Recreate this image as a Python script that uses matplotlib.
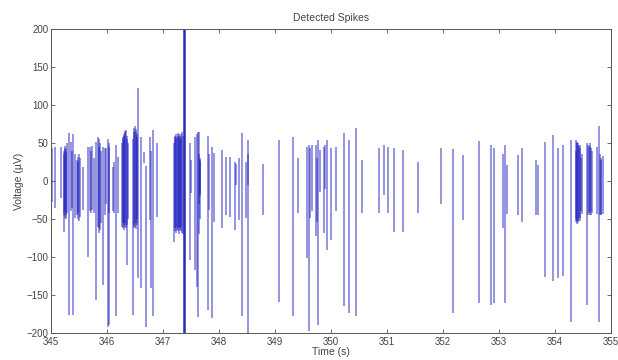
import numpy as np
import matplotlib.pyplot as plt

plt.rcParams['font.family'] = ['Liberation Sans', 'DejaVu Sans']

# spike times (s), peak and trough (uV)
spike_t = [
    345.01, 345.08, 345.17,
    345.225, 345.235, 345.245, 345.255, 345.265, 345.275, 345.29, 345.32,
    345.36, 345.38, 345.40, 345.42,
    345.46, 345.475, 345.49, 345.50, 345.515, 345.57,
    345.67, 345.69, 345.71, 345.73, 345.76, 345.80,
    345.84, 345.85, 345.865, 345.88, 345.895, 345.93, 345.96, 345.98,
    346.01, 346.03, 346.045, 346.10, 346.12, 346.16, 346.20,
    346.27, 346.28, 346.29, 346.30, 346.31, 346.32, 346.33, 346.34, 346.35, 346.36, 346.37,
    346.47, 346.48, 346.49, 346.50, 346.51, 346.52, 346.53, 346.54, 346.555,
    346.61, 346.67, 346.69, 346.76, 346.78, 346.82, 346.90,
    347.20, 347.21, 347.22, 347.23, 347.24, 347.25, 347.26, 347.27, 347.28,
    347.29, 347.30, 347.31, 347.32, 347.33, 347.34, 347.35,
    347.49, 347.50, 347.57, 347.61, 347.62, 347.64, 347.65, 347.655, 347.66, 347.67,
    347.80, 347.82, 347.88, 347.92,
    348.05, 348.12, 348.20, 348.29, 348.30, 348.35, 348.42, 348.48, 348.51, 348.52, 348.79,
    349.08, 349.32, 349.42, 349.58, 349.60, 349.63, 349.66, 349.74, 349.745, 349.76,
    349.81, 349.88, 349.90, 349.93,
    350.00, 350.09, 350.23, 350.33, 350.44, 350.55, 350.86, 350.95,
    351.02, 351.13, 351.28, 351.55, 351.96,
    352.18, 352.36, 352.64, 352.85, 352.92,
    353.08, 353.11, 353.14, 353.34, 353.42, 353.66, 353.70, 353.82, 353.97,
    354.05, 354.14, 354.28,
    354.37, 354.38, 354.39, 354.40, 354.41, 354.42, 354.43, 354.44, 354.45, 354.47, 354.49,
    354.58, 354.60, 354.61, 354.62, 354.635, 354.65, 354.66,
    354.76, 354.79, 354.80, 354.815, 354.83, 354.86,
]
spike_top = [
    43, 45, 45,
    35, 40, 46, 44, 38, 42, 50, 63,
    52, 40, 62, 35,
    28, 32, 25, 35, 30, 19,
    45, 45, 40, 46, 30, 52,
    58, 45, 55, 50, 40, 45, 43, 43,
    56, 50, 45, 19, 25, 47, 32,
    50, 58, 55, 62, 60, 66, 64, 67, 60, 55, 50,
    55, 65, 70, 72, 68, 65, 62, 58, 122,
    58, 38, 20, 58, 40, 67, 50,
    50, 58, 60, 55, 62, 58, 63, 60, 58,
    62, 56, 60, 57, 62, 65, 60,
    50, 28, 58, 62, 65, 35, 65, 28, 30, 25,
    60, 36, 45, 37,
    41, 32, 32, 25, 22, 30, 63, 25, 54, 35, 23,
    54, 58, 30, 45, 48, 43, 48, 48, 30, 54,
    41, 45, 48, 54,
    43, 45, 63, 54, 70, 28, 43, 47,
    45, 43, 41, 25, 44,
    42, 34, 53, 48, 43,
    36, 47, 21, 34, 43, 28, 21, 51, 61,
    44, 47, 54,
    40, 54, 50, 52, 48, 50, 46, 48, 44, 30, 36,
    50, 48, 45, 50, 46, 44, 40,
    45, 72, 35, 30, 28, 33,
]
spike_bot = [
    -27, -36, -22,
    -67, -45, -48, -40, -50, -44, -42, -176,
    -40, -35, -176, -48,
    -45, -50, -42, -52, -47, -38,
    -100, -40, -42, -38, -42, -157,
    -60, -68, -62, -65, -55, -137, -45, -30,
    -192, -190, -42, -40, -42, -178, -42,
    -60, -55, -62, -58, -64, -60, -55, -62, -58, -110, -50,
    -176, -58, -62, -60, -63, -55, -58, -50, -128,
    -141, 24, -192, -51, -141, -178, -47,
    -80, -62, -66, -60, -68, -64, -62, -66, -60,
    -70, -64, -62, -66, -60, -68, -70,
    -104, -16, -117, -140, -179, -70, -30, -16, -20, -50,
    -170, -38, -180, -54,
    -62, -45, -47, -64, -5, -51, -178, -48, -210, -5, -45,
    -159, -178, -42, -101, -198, -49, -40, -72, -54, -190,
    -14, -68, -10, -91,
    -78, -40, -165, -174, -178, -42, -42, -18,
    -42, -67, -67, -42, -30,
    -174, -51, -160, -163, -160,
    -62, -161, -43, -45, -54, -45, -45, -126, -132,
    -128, -125, -185,
    -50, -54, -52, -56, -53, -55, -50, -52, -48, -40, -43,
    -163, -45, -42, -45, -40, -45, -42,
    -43, -185, -45, -43, -45, -43,
]

# large artifact running off both ends of the axis
artifact_t = 347.37
artifact_range = (-400, 400)

fig = plt.figure(figsize=(6.18, 3.6), dpi=100)
ax = fig.add_axes([0.0825, 0.075, 0.906, 0.844])

ax.vlines(spike_t, spike_bot, spike_top, color='#2020c0', linewidth=1.1, alpha=0.6)
ax.vlines([artifact_t], artifact_range[0], artifact_range[1], color='#2a2ab8', linewidth=1.8)

ax.set_xlim(345, 355)
ax.set_ylim(-200, 200)
ax.set_xticks(np.arange(345, 356, 1))
ax.set_yticks(np.arange(-200, 201, 50))

ax.tick_params(direction='in', top=True, right=True, length=3, width=0.6,
               labelsize=7, colors='#555555', labelcolor='#444444')
ax.tick_params(axis='x', pad=3)
ax.tick_params(axis='y', pad=2)
for sp in ax.spines.values():
    sp.set_color('#555555')
    sp.set_linewidth(0.7)

ax.set_title('Detected Spikes', fontsize=7.5, color='#444444', pad=6)
ax.set_xlabel('Time (s)', fontsize=7.5, color='#444444', labelpad=0)
ax.set_ylabel('Voltage (\u00b5V)', fontsize=7.5, color='#444444', labelpad=2)

fig.savefig('out.png', dpi=100)
